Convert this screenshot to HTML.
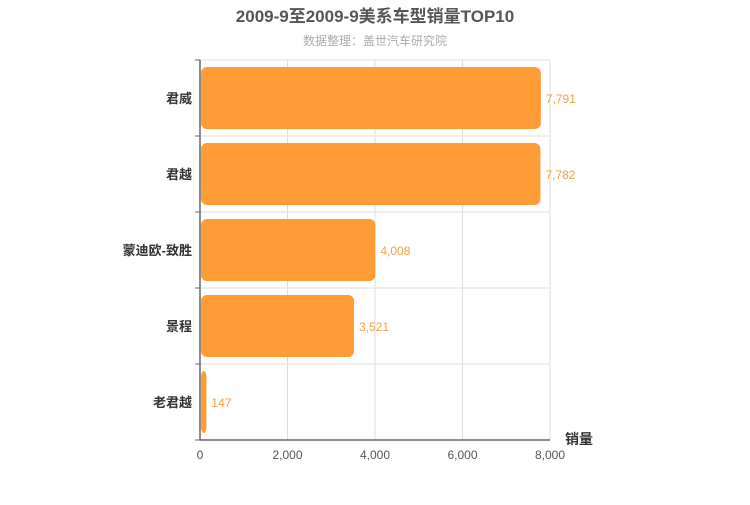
<!DOCTYPE html>
<html><head><meta charset="utf-8"><style>
body{margin:0;background:#fff;}
svg text{font-family:"Liberation Sans","Noto Sans CJK SC",sans-serif;}
</style></head><body>
<svg id="c" width="750" height="500">
<text x="375" y="22" text-anchor="middle" font-size="17" font-weight="bold" fill="#555">2009-9至2009-9美系车型销量TOP10</text>
<text x="375" y="45" text-anchor="middle" font-size="12" fill="#aaa">数据整理：盖世汽车研究院</text>
<g id="g"></g>
</svg>
<script>
const categories=["君威","君越","蒙迪欧-致胜","景程","老君越"];
const values=[7791,7782,4008,3521,147];
const labels=["7,791","7,782","4,008","3,521","147"];
const ticks=[0,2000,4000,6000,8000];
const tickLabels=["0","2,000","4,000","6,000","8,000"];
const NS="http://www.w3.org/2000/svg";
const g=document.getElementById('g');
const x0=200,x1=550,y0=60,y1=440,max=8000;
const band=(y1-y0)/categories.length;
const xs=v=>x0+v/max*(x1-x0);
function mk(t,a){const e=document.createElementNS(NS,t);for(const k in a)e.setAttribute(k,a[k]);g.appendChild(e);return e;}
ticks.forEach((t,i)=>{
 const l=mk('line',{x1:xs(t),x2:xs(t),y1:y0,y2:y1,stroke:'#ddd'});
 
 
 const tx=mk('text',{x:xs(t),y:y1+19,'text-anchor':'middle','font-size':12,fill:'#555'});
 tx.textContent=tickLabels[i];
 
 
});
for(let i=0;i<=categories.length;i++){
 const y=y0+i*band;
 const l=mk('line',{x1:x0,x2:x1,y1:y,y2:y,stroke:'#ddd'});
 
 
 const t=mk('line',{x1:x0-5,x2:x0,y1:y,y2:y,stroke:'#666'});
 
 
}
categories.forEach((c,i)=>{
 const yb=y0+i*band;
 const r=mk('rect',{x:x0+1,y:yb+7,width:Math.max(xs(values[i])-x0-1,4),height:band-14,rx:6,fill:'#ff9c35'});
 
 
 const v=mk('text',{x:xs(values[i])+5,y:yb+band/2+5,'font-size':12,fill:'#f4a040'});
 v.textContent=labels[i];
 
 
 const cl=mk('text',{x:x0-8,y:yb+band/2+5,'text-anchor':'end','font-size':13,'font-weight':'bold',fill:'#333'});
 cl.textContent=c;
 
 
});
const ya=mk('line',{x1:x0,x2:x0,y1:y0,y2:y1,stroke:'#666','stroke-width':1.5});


const xa=mk('line',{x1:x0,x2:x1,y1:y1,y2:y1,stroke:'#666','stroke-width':1.5});


const at=mk('text',{x:565,y:444,'font-size':14,'font-weight':'bold',fill:'#333'});
at.textContent='销量';


</script>
</body></html>
